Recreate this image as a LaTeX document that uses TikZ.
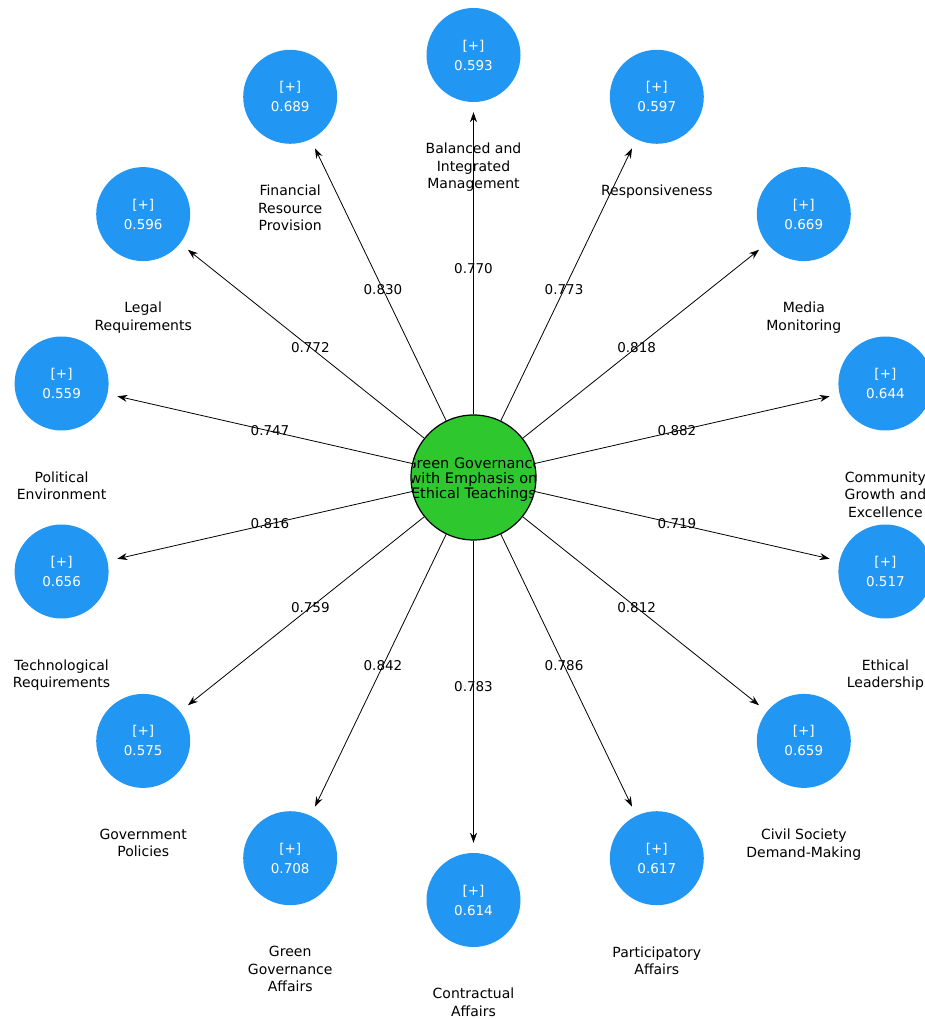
\documentclass[tikz,border=0pt]{standalone}
\usepackage{fontspec}
\setmainfont{DejaVu Sans}
\usetikzlibrary{arrows.meta}
\definecolor{factorblue}{HTML}{2196F3}
\definecolor{hubgreen}{HTML}{2EC82E}
\begin{document}
\begin{tikzpicture}[
  x=1pt, y=1pt,
  hub/.style={circle, draw=black, line width=1.2pt, fill=hubgreen, minimum size=125pt, inner sep=0pt},
  hubtext/.style={align=center, font=\fontsize{14.5}{15}\selectfont, inner sep=0pt},
  f/.style={circle, fill=factorblue, minimum size=94pt, inner sep=0pt, text=white,
    align=center, font=\fontsize{13.5}{20}\selectfont},
  lab/.style={anchor=north, align=center, inner sep=0pt, font=\fontsize{14}{17.5}\selectfont},
  load/.style={font=\fontsize{13.5}{16}\selectfont, inner sep=0pt},
  e/.style={-{Stealth[length=10pt, width=7pt]}, line width=0.8pt, shorten >=10pt}
]
\useasboundingbox (-473.5,-541.5) rectangle (451.5,477.5);
% centre
\node[hub] (hub) at (0,0) {};
\begin{scope}
  \clip (0,0) circle (62);
  \node[hubtext] (hubtext) at ([yshift=-2pt]hub.center) {Green Governance\\with Emphasis on\\Ethical Teachings};
\end{scope}
% factors
\node[f] (f0) at (0,422.5) {[+]\\0.593};
\node[f] (f1) at (183.3,380.7) {[+]\\0.597};
\node[f] (f2) at (330.3,263.4) {[+]\\0.669};
\node[f] (f3) at (411.9,94.0) {[+]\\0.644};
\node[f] (f4) at (411.9,-94.0) {[+]\\0.517};
\node[f] (f5) at (330.3,-263.4) {[+]\\0.659};
\node[f] (f6) at (183.3,-380.7) {[+]\\0.617};
\node[f] (f7) at (0,-422.5) {[+]\\0.614};
\node[f] (f8) at (-183.3,-380.7) {[+]\\0.708};
\node[f] (f9) at (-330.3,-263.4) {[+]\\0.575};
\node[f] (f10) at (-411.9,-94.0) {[+]\\0.656};
\node[f] (f11) at (-411.9,94.0) {[+]\\0.559};
\node[f] (f12) at (-330.3,263.4) {[+]\\0.596};
\node[f] (f13) at (-183.3,380.7) {[+]\\0.689};
% names under the factors
\node[lab] (n0) at ([yshift=-88pt]f0.center) {Balanced and\\Integrated\\Management};
\node[lab] (n1) at ([yshift=-88pt]f1.center) {Responsiveness};
\node[lab] (n2) at ([yshift=-88pt]f2.center) {Media\\Monitoring};
\node[lab] (n3) at ([yshift=-88pt]f3.center) {Community\\Growth and\\Excellence};
\node[lab] (n4) at ([yshift=-88pt]f4.center) {Ethical\\Leadership};
\node[lab] (n5) at ([yshift=-88pt]f5.center) {Civil Society\\Demand-Making};
\node[lab] (n6) at ([yshift=-88pt]f6.center) {Participatory\\Affairs};
\node[lab] (n7) at ([yshift=-88pt]f7.center) {Contractual\\Affairs};
\node[lab] (n8) at ([yshift=-88pt]f8.center) {Green\\Governance\\Affairs};
\node[lab] (n9) at ([yshift=-88pt]f9.center) {Government\\Policies};
\node[lab] (n10) at ([yshift=-88pt]f10.center) {Technological\\Requirements};
\node[lab] (n11) at ([yshift=-88pt]f11.center) {Political\\Environment};
\node[lab] (n12) at ([yshift=-88pt]f12.center) {Legal\\Requirements};
\node[lab] (n13) at ([yshift=-88pt]f13.center) {Financial\\Resource\\Provision};
% arrows
\draw[e] (hub) -- (f0);
\draw[e] (hub) -- (f1);
\draw[e] (hub) -- (f2);
\draw[e] (hub) -- (f3);
\draw[e] (hub) -- (f4);
\draw[e] (hub) -- (f5);
\draw[e] (hub) -- (f6);
\draw[e] (hub) -- (f7);
\draw[e] (hub) -- (f8);
\draw[e] (hub) -- (f9);
\draw[e] (hub) -- (f10);
\draw[e] (hub) -- (f11);
\draw[e] (hub) -- (f12);
\draw[e] (hub) -- (f13);
% loadings
\path (hub.center) -- (f0.center) node[load, pos=0.494] (l0) {0.770};
\path (hub.center) -- (f1.center) node[load, pos=0.494] (l1) {0.773};
\path (hub.center) -- (f2.center) node[load, pos=0.494] (l2) {0.818};
\path (hub.center) -- (f3.center) node[load, pos=0.494] (l3) {0.882};
\path (hub.center) -- (f4.center) node[load, pos=0.494] (l4) {0.719};
\path (hub.center) -- (f5.center) node[load, pos=0.494] (l5) {0.812};
\path (hub.center) -- (f6.center) node[load, pos=0.494] (l6) {0.786};
\path (hub.center) -- (f7.center) node[load, pos=0.494] (l7) {0.783};
\path (hub.center) -- (f8.center) node[load, pos=0.494] (l8) {0.842};
\path (hub.center) -- (f9.center) node[load, pos=0.494] (l9) {0.759};
\path (hub.center) -- (f10.center) node[load, pos=0.494] (l10) {0.816};
\path (hub.center) -- (f11.center) node[load, pos=0.494] (l11) {0.747};
\path (hub.center) -- (f12.center) node[load, pos=0.494] (l12) {0.772};
\path (hub.center) -- (f13.center) node[load, pos=0.494] (l13) {0.830};
\end{tikzpicture}
\end{document}
